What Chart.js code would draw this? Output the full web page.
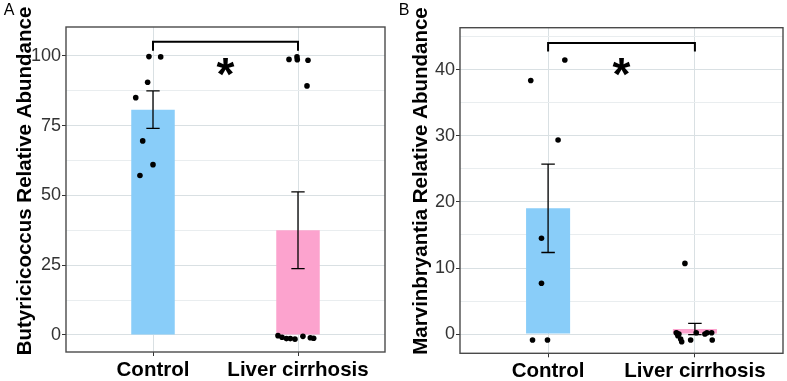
<!DOCTYPE html>
<html><head><meta charset="utf-8">
<script src="https://cdn.jsdelivr.net/npm/chart.js@4.4.1/dist/chart.umd.min.js"></script>
<style>
html,body{margin:0;padding:0;background:#fff;}
#wrap{position:relative;width:787px;height:381px;overflow:hidden;background:#fff;}
#cA{position:absolute;left:0;top:0;}
#cB{position:absolute;left:390px;top:0;}
</style></head><body>
<div id="wrap">
<canvas id="cA" width="390" height="381"></canvas>
<canvas id="cB" width="397" height="381"></canvas>
</div>
<script>
// ---------- data ----------
const categories = ['Control', 'Liver cirrhosis'];
const barColors = ['#89CDF9', '#FCA3CE'];

// Panel A: Butyricicoccus
const titleA = 'Butyricicoccus Relative Abundance';
const majorTicksA = [0, 25, 50, 75, 100];
const minorTicksA = [12.5, 37.5, 62.5, 87.5];
const rangeA = [-6.1, 110.3];
const meanA = [80.7, 37.5];
const seA = [6.7, 13.75];
const controlA = [99.7, 99.6, 90.5, 85.0, 69.5, 61.0, 57.1];
const controlJitterA = [-0.028, 0.053, -0.037, -0.119, -0.071, 0.0, -0.090];
const cirrhosisA = [98.7, 99.6, 98.6, 98.4, 89.2, -0.25, -0.8, -1.3, -1.3, -1.5, -0.5, -1.0, -1.2];
const cirrhosisJitterA = [-0.062, -0.007, -0.005, 0.069, 0.062, -0.138, -0.110, -0.080, -0.053, -0.021, 0.034, 0.085, 0.108];
const bracketA = [101.8, 105];   // foot, top
const starA = 95.8;

// Panel B: Marvinbryantia
const titleB = 'Marvinbryantia Relative Abundance';
const majorTicksB = [0, 10, 20, 30, 40];
const minorTicksB = [5, 15, 25, 35, 45];
const rangeB = [-2.92, 46.4];
const meanB = [19.05, 0.75];
const seB = [6.7, 0.85];
const controlB = [41.5, 38.4, 29.4, 14.5, 7.7, -0.9, -0.9];
const controlJitterB = [0.114, -0.118, 0.068, -0.045, -0.045, -0.106, -0.004];
const cirrhosisB = [10.7, 0.2, -0.26, -0.76, -1.17, -0.9, 0.2, 0.0, 0.2, -0.9, 0.1, 0.0, 0.2];
const cirrhosisJitterB = [-0.068, -0.127, -0.116, -0.097, -0.09, -0.029, 0.009, 0.068, 0.114, 0.118, -0.122, -0.109, 0.082];
const bracketB = [42.8, 44.1];
const starB = 40.5;

Chart.defaults.font.family = "'Liberation Sans', Arial, sans-serif";

const gridMajor = '#d9e0e3';
const gridMinor = '#e9edef';

const decor = {
  id: 'decor',
  afterDatasetDraw(chart, args) {
    if (args.meta.type !== 'bar') return;
    const o = chart.options.plugins.decor;
    const {ctx, scales: {x, y}} = chart;
    ctx.save();
    ctx.strokeStyle = '#000';
    ctx.lineWidth = 1.3;
    o.means.forEach((m, i) => {
      const cx = x.getPixelForValue(i + 1);
      const hw = x.getPixelForValue(i + 1 + 0.046) - cx;
      const yt = y.getPixelForValue(m + o.se[i]);
      const yb = y.getPixelForValue(m - o.se[i]);
      ctx.beginPath();
      ctx.moveTo(cx, yt); ctx.lineTo(cx, yb);
      ctx.moveTo(cx - hw, yt); ctx.lineTo(cx + hw, yt);
      ctx.moveTo(cx - hw, yb); ctx.lineTo(cx + hw, yb);
      ctx.stroke();
    });
    ctx.restore();
  },
  afterDraw(chart) {
    const o = chart.options.plugins.decor;
    const {ctx, chartArea: a, scales: {x, y}} = chart;
    ctx.save();
    // panel border
    ctx.strokeStyle = '#4a4a4a';
    ctx.lineWidth = 1.4;
    ctx.strokeRect(a.left, a.top, a.right - a.left, a.bottom - a.top);
    // significance bracket
    const x1 = x.getPixelForValue(1), x2 = x.getPixelForValue(2);
    const yf = y.getPixelForValue(o.bracket[0]), yt = y.getPixelForValue(o.bracket[1]);
    ctx.strokeStyle = '#000';
    ctx.lineWidth = 2;
    ctx.beginPath();
    ctx.moveTo(x1, yf); ctx.lineTo(x1, yt); ctx.lineTo(x2, yt); ctx.lineTo(x2, yf);
    ctx.stroke();
    // asterisk
    ctx.fillStyle = '#000';
    ctx.font = "bold 46px 'Liberation Sans', Arial, sans-serif";
    ctx.textAlign = 'left';
    ctx.textBaseline = 'alphabetic';
    const m = ctx.measureText('*');
    const sx = x.getPixelForValue(1.5), sy = y.getPixelForValue(o.star);
    const gx = sx - (m.actualBoundingBoxRight - m.actualBoundingBoxLeft) / 2;
    const gy = sy + (m.actualBoundingBoxAscent - m.actualBoundingBoxDescent) / 2;
    ctx.fillText('*', gx, gy);
    // y title
    ctx.save();
    ctx.translate(o.titleX, o.titleY);
    ctx.rotate(-Math.PI / 2);
    ctx.font = "bold 20.5px 'Liberation Sans', Arial, sans-serif";
    ctx.textAlign = 'center';
    ctx.textBaseline = 'middle';
    ctx.fillText(o.title, 0, 0);
    ctx.restore();
    // panel letter
    ctx.font = "16px 'Liberation Sans', Arial, sans-serif";
    ctx.textAlign = 'center';
    ctx.textBaseline = 'middle';
    ctx.fillText(o.letter, o.letterX, 11);
    ctx.restore();
  }
};

function build(id, o) {
  const pts = [];
  o.groups.forEach((g, gi) => g.vals.forEach((v, i) => pts.push({x: gi + 1 + g.jit[i], y: v})));
  const allTicks = o.major.concat(o.minor).sort((a, b) => a - b);
  const isMajor = v => o.major.indexOf(v) >= 0;
  return new Chart(document.getElementById(id), {
    data: {
      datasets: [
        {type: 'scatter', data: pts, pointRadius: 2.8, pointBackgroundColor: '#000', pointBorderWidth: 0, order: 0},
        {type: 'bar', data: o.means.map((m, i) => ({x: i + 1, y: m})), backgroundColor: barColors,
         barPercentage: 0.3, categoryPercentage: 1, order: 1}
      ]
    },
    options: {
      responsive: false, animation: false, devicePixelRatio: 1,
      layout: {padding: {top: o.padTop, right: o.padRight, left: 0, bottom: 0}},
      plugins: {
        legend: {display: false}, tooltip: {enabled: false},
        decor: {means: o.means, se: o.se, bracket: o.bracket, star: o.star, title: o.title,
                titleX: o.titleX, titleY: o.titleY, letter: o.letter, letterX: o.letterX}
      },
      scales: {
        x: {
          type: 'linear', min: 0.4, max: 2.6, offset: false,
          afterBuildTicks: s => { s.ticks = categories.map((c, i) => ({value: i + 1})); },
          ticks: {callback: v => categories[v - 1], font: {size: 20.5, weight: 'bold'}, color: '#000',
                  padding: 2, maxRotation: 0, autoSkip: false},
          grid: {offset: false, color: gridMajor, tickColor: '#333', tickLength: 4, lineWidth: 1},
          border: {display: false},
          afterFit: s => { s.height = o.xAxisH; }
        },
        y: {
          type: 'linear', min: o.range[0], max: o.range[1],
          afterBuildTicks: s => { s.ticks = allTicks.map(v => ({value: v})); },
          ticks: {callback: v => isMajor(v) ? String(v) : '', font: {size: 18}, color: '#333', padding: 1, autoSkip: false},
          grid: {color: c => isMajor(c.tick.value) ? gridMajor : gridMinor,
                 tickColor: c => isMajor(c.tick.value) ? '#333' : 'rgba(0,0,0,0)', tickLength: 4, lineWidth: 1},
          border: {display: false},
          afterFit: s => { s.width = o.yAxisW; }
        }
      }
    },
    plugins: [decor]
  });
}

build('cA', {
  groups: [{vals: controlA, jit: controlJitterA}, {vals: cirrhosisA, jit: cirrhosisJitterA}],
  means: meanA, se: seA, major: majorTicksA, minor: minorTicksA, range: rangeA,
  bracket: bracketA, star: starA, title: titleA, titleX: 25.5, titleY: 181, letter: 'A', letterX: 9,
  padTop: 27, padRight: 5, xAxisH: 29, yAxisW: 66
});
build('cB', {
  groups: [{vals: controlB, jit: controlJitterB}, {vals: cirrhosisB, jit: cirrhosisJitterB}],
  means: meanB, se: seB, major: majorTicksB, minor: minorTicksB, range: rangeB,
  bracket: bracketB, star: starB, title: titleB, titleX: 31.5, titleY: 181, letter: 'B', letterX: 14,
  padTop: 27.7, padRight: 3.7, xAxisH: 27.7, yAxisW: 70
});
</script>
</body></html>
